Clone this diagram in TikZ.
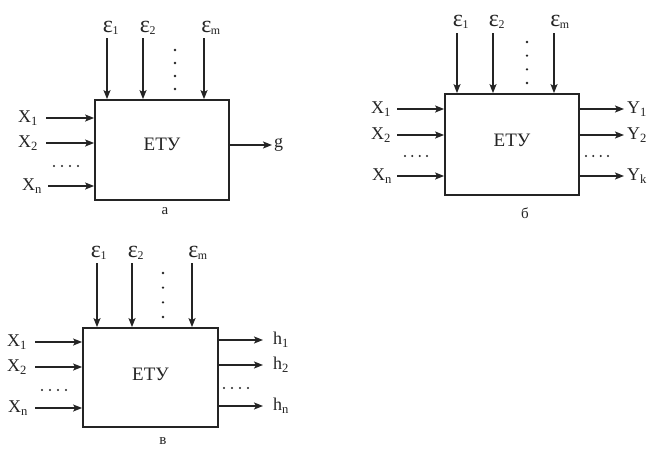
\documentclass[tikz,border=0pt]{standalone}
\usepackage{fontspec}
\setmainfont{Liberation Serif}
\usetikzlibrary{arrows.meta}
\definecolor{ink}{rgb}{0.14,0.14,0.14}
\tikzset{
  blk/.style={draw=ink, line width=1.8pt, minimum width=#1, inner sep=0pt},
  lbl/.style={text=ink, font=\fontsize{18}{20}\selectfont, inner sep=0pt},
  mid/.style={text=ink, font=\fontsize{19}{21}\selectfont, inner sep=0pt},
  captxt/.style={text=ink, font=\fontsize{15}{17}\selectfont, inner sep=0pt},
  arr/.style={draw=ink, line width=1.4pt, -{Stealth[length=9pt,width=7pt,inset=2pt]}},
}
\newcommand{\eps}[1]{{\fontsize{24}{24}\selectfont ε}\kern-0.5pt{\fontsize{17}{19}\selectfont\textsubscript{#1}}}
\newcommand{\hdots}[3]{% x1 x2 y
  \foreach \k in {0,1,2,3} {\fill[ink] ({#1+\k*(#2-#1)/3},#3) circle (1.1);}
}
\newcommand{\vdotsc}[3]{% x y1 y2
  \foreach \k in {0,1,2,3} {\fill[ink] (#1,{#2+\k*(#3-#2)/3}) circle (1.3);}
}
\begin{document}
\begin{tikzpicture}[x=1pt,y=-1pt]
\useasboundingbox[fill=white] (0,0) rectangle (660,450);

% ---------------- а ----------------
\node[blk=134pt, minimum height=100pt] (abox) at (162,150) {};
\node[mid] (amid) at (162,144) {ЕТУ};
\node[lbl] (ae1) at (111,28) {\eps{1}};
\node[lbl] (ae2) at (148,28) {\eps{2}};
\node[lbl] (aem) at (211,28) {\eps{m}};
\coordinate (ae1s) at (107,38); \coordinate (ae2s) at (143,38); \coordinate (aems) at (204,38);
\draw[arr] (ae1s) -- (ae1s |- abox.north);
\draw[arr] (ae2s) -- (ae2s |- abox.north);
\draw[arr] (aems) -- (aems |- abox.north);
\vdotsc{175}{50}{89}
\node[lbl] (ax1) at (28,118) {X\textsubscript{1}};
\node[lbl] (ax2) at (28,143) {X\textsubscript{2}};
\node[lbl] (axn) at (32,186) {X\textsubscript{n}};
\coordinate (ax1s) at (46,118); \coordinate (ax2s) at (46,143); \coordinate (axns) at (48,186);
\draw[arr] (ax1s) -- (ax1s -| abox.west);
\draw[arr] (ax2s) -- (ax2s -| abox.west);
\draw[arr] (axns) -- (axns -| abox.west);
\hdots{54}{78}{166}
\coordinate (ag) at (272,145);
\node[lbl, anchor=west] (agl) at (274,145) {g};
\draw[arr] (abox.east |- ag) -- (ag);
\node[captxt] (acap) at (165,211) {а};

% ---------------- б ----------------
\node[blk=134pt, minimum height=101pt] (bbox) at (512,144.5) {};
\node[mid] (bmid) at (512,140) {ЕТУ};
\node[lbl] (be1) at (461,22) {\eps{1}};
\node[lbl] (be2) at (497,22) {\eps{2}};
\node[lbl] (bem) at (560,22) {\eps{m}};
\coordinate (be1s) at (457,33); \coordinate (be2s) at (493,33); \coordinate (bems) at (554,33);
\draw[arr] (be1s) -- (be1s |- bbox.north);
\draw[arr] (be2s) -- (be2s |- bbox.north);
\draw[arr] (bems) -- (bems |- bbox.north);
\vdotsc{527}{42}{83}
\node[lbl] (bx1) at (381,109) {X\textsubscript{1}};
\node[lbl] (bx2) at (381,135) {X\textsubscript{2}};
\node[lbl] (bxn) at (382,176) {X\textsubscript{n}};
\coordinate (bx1s) at (397,109); \coordinate (bx2s) at (397,135); \coordinate (bxns) at (397,176);
\draw[arr] (bx1s) -- (bx1s -| bbox.west);
\draw[arr] (bx2s) -- (bx2s -| bbox.west);
\draw[arr] (bxns) -- (bxns -| bbox.west);
\hdots{405}{427}{156}
\coordinate (by1) at (624,109); \coordinate (by2) at (624,135); \coordinate (byk) at (624,176);
\draw[arr] (bbox.east |- by1) -- (by1);
\draw[arr] (bbox.east |- by2) -- (by2);
\draw[arr] (bbox.east |- byk) -- (byk);
\node[lbl, anchor=west] (by1l) at (627,109) {Y\textsubscript{1}};
\node[lbl, anchor=west] (by2l) at (627,135) {Y\textsubscript{2}};
\node[lbl, anchor=west] (bykl) at (627,176) {Y\textsubscript{k}};
\hdots{586}{608}{156}
\node[captxt] (bcap) at (525,213) {б};

% ---------------- в ----------------
\node[blk=135pt, minimum height=99pt] (cbox) at (150.5,377.5) {};
\node[mid] (cmid) at (150.5,374) {ЕТУ};
\node[lbl] (ce1) at (99,253) {\eps{1}};
\node[lbl] (ce2) at (136,253) {\eps{2}};
\node[lbl] (cem) at (198,253) {\eps{m}};
\coordinate (ce1s) at (97,263); \coordinate (ce2s) at (132,263); \coordinate (cems) at (192,263);
\draw[arr] (ce1s) -- (ce1s |- cbox.north);
\draw[arr] (ce2s) -- (ce2s |- cbox.north);
\draw[arr] (cems) -- (cems |- cbox.north);
\vdotsc{163}{273}{317}
\node[lbl] (cx1) at (17,342) {X\textsubscript{1}};
\node[lbl] (cx2) at (17,367) {X\textsubscript{2}};
\node[lbl] (cxn) at (18,408) {X\textsubscript{n}};
\coordinate (cx1s) at (35,342); \coordinate (cx2s) at (35,367); \coordinate (cxns) at (35,408);
\draw[arr] (cx1s) -- (cx1s -| cbox.west);
\draw[arr] (cx2s) -- (cx2s -| cbox.west);
\draw[arr] (cxns) -- (cxns -| cbox.west);
\hdots{42}{66}{390}
\coordinate (ch1) at (263,340); \coordinate (ch2) at (263,365); \coordinate (chn) at (263,406);
\draw[arr] (cbox.east |- ch1) -- (ch1);
\draw[arr] (cbox.east |- ch2) -- (ch2);
\draw[arr] (cbox.east |- chn) -- (chn);
\node[lbl, anchor=west] (ch1l) at (273,340) {h\textsubscript{1}};
\node[lbl, anchor=west] (ch2l) at (273,365) {h\textsubscript{2}};
\node[lbl, anchor=west] (chnl) at (273,406) {h\textsubscript{n}};
\hdots{224}{248}{388}
\node[captxt] (ccap) at (163,441) {в};
\end{tikzpicture}
\end{document}
